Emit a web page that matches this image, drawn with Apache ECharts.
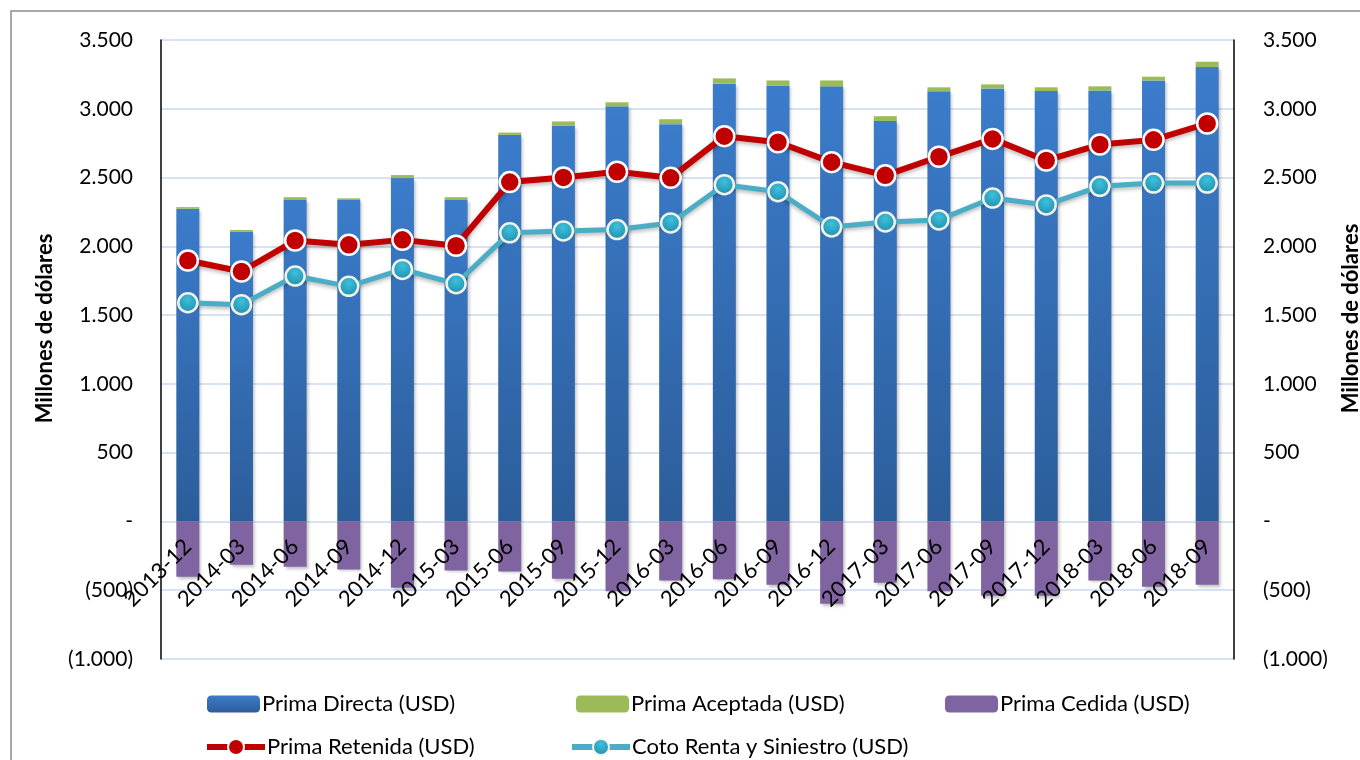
<!DOCTYPE html>
<html>
<head>
<meta charset="utf-8">
<title>Primas</title>
<script src="https://cdn.jsdelivr.net/npm/echarts@6/dist/echarts.min.js"></script>
<style>
    html, body { margin: 0; padding: 0; background: #fff; }
    #chart { width: 1360px; height: 760px; }
</style>
</head>
<body>
<div id="chart"></div>
<script>
// categorias (trimestres)
var periodos = ["2013-12", "2014-03", "2014-06", "2014-09", "2014-12", "2015-03", "2015-06", "2015-09", "2015-12", "2016-03",
    "2016-06", "2016-09", "2016-12", "2017-03", "2017-06", "2017-09", "2017-12", "2018-03", "2018-06", "2018-09"];
// barras apiladas
var primaDirecta = [2273, 2107, 2337, 2337, 2496, 2337, 2810, 2878, 3018, 2888,
    3182, 3170, 3163, 2911, 3127, 3148, 3129, 3132, 3206, 3303];
var primaAceptada = [12, 12, 20, 12, 22, 20, 17, 30, 29, 36,
    39, 36, 43, 35, 29, 29, 27, 31, 27, 39];
var primaCedida = [-402, -315, -330, -349, -482, -356, -363, -417, -508, -429,
    -421, -460, -598, -446, -508, -540, -540, -429, -475, -460];
// lineas
var primaRetenida = [1897, 1817, 2042, 2011, 2047, 2004, 2467, 2501, 2542, 2498,
    2801, 2757, 2612, 2516, 2651, 2781, 2624, 2740, 2774, 2893];
var cotoRenta = [1590, 1576, 1784, 1709, 1832, 1728, 2098, 2112, 2122, 2170,
    2448, 2397, 2141, 2177, 2192, 2351, 2301, 2436, 2460, 2460];
// eje y
var ejeMin = -1000, ejeMax = 3500, ejePaso = 500;

(function () {
    var myChart = echarts.init(document.getElementById("chart"));
    var fuente = "Lato";
    var colorRejilla = "#d5e1f2";

    // formato de etiquetas estilo contable: 3.500 / - / (500)
    function formato(v) {
        if (v === 0) return "-";
        var s = Math.abs(v).toString().replace(/\B(?=(\d{3})+(?!\d))/g, ".");
        return v < 0 ? "(" + s + ")" : s;
    }

    var ejeY = {
        type: "value",
        min: ejeMin,
        max: ejeMax,
        interval: ejePaso,
        name: "Millones de dólares",
        nameLocation: "middle",
        axisLine: { show: true, lineStyle: { color: "#000", width: 1.5 } },
        axisTick: { show: false },
        splitLine: { lineStyle: { color: colorRejilla, width: 1.5 } },
    };

    function leyenda(nombre, x, y, ancho, linea) {
        var l = {
            data: [nombre],
            left: x,
            top: y,
            itemWidth: ancho,
            itemHeight: 17,
            itemGap: 4,
            textStyle: { fontFamily: fuente, fontSize: 22, color: "#000", padding: [0, 0, 0, -3] },
        };
        if (linea) {
            l.lineStyle = { width: 6, shadowBlur: 0 };
            l.itemHeight = 20;
        }
        return l;
    }

    var option = {
        animation: false,
        textStyle: { fontFamily: fuente },
        // marco exterior
        graphic: [
            {
                type: "rect",
                shape: { x: 11, y: 11, width: 1420, height: 820 },
                style: { fill: "none", stroke: "#8c8c8c", lineWidth: 1.5 },
            },
        ],
        grid: { left: 161, right: 126, top: 40, bottom: 101, outerBoundsMode: "none", containLabel: false },
        legend: [
            leyenda("Prima Directa (USD)", 202, 688, 53),
            leyenda("Prima Aceptada (USD)", 571, 688, 53),
            leyenda("Prima Cedida (USD)", 940, 688, 53),
            leyenda("Prima Retenida (USD)", 199, 731, 58, true),
            leyenda("Coto Renta y Siniestro (USD)", 564, 731, 58, true),
        ],
        xAxis: {
            type: "category",
            data: periodos,
            // etiquetas junto a la linea del cero
            axisLine: { show: false, onZero: false },
            axisTick: { show: false },
            axisLabel: { interval: 0, rotate: 45, margin: -116, fontFamily: fuente, fontSize: 22, color: "#000" },
            z: 3,
        },
        yAxis: [
            Object.assign({}, ejeY, {
                position: "left",
                nameGap: 105,
                nameTextStyle: { fontFamily: fuente, fontSize: 22, fontWeight: "bold", color: "#000", padding: [0, 0, 0, 42] },
                axisLabel: { formatter: formato, fontFamily: fuente, fontSize: 21, color: "#000", margin: 28 },
            }),
            Object.assign({}, ejeY, {
                position: "right",
                nameGap: 106,
                nameRotate: 90,
                nameTextStyle: { fontFamily: fuente, fontSize: 22, fontWeight: "bold", color: "#000", padding: [0, 0, 0, 62] },
                axisLabel: { formatter: formato, fontFamily: fuente, fontSize: 21, color: "#000", margin: 29, align: "left" },
            }),
        ],
        series: [
            {
                name: "Prima Directa (USD)",
                type: "bar",
                stack: "prima",
                barWidth: 23,
                data: primaDirecta,
                itemStyle: {
                    color: new echarts.graphic.LinearGradient(0, 0, 0, 1, [
                        { offset: 0, color: "#3b7ccb" },
                        { offset: 1, color: "#2c5d9a" },
                    ]),
                    shadowBlur: 3,
                    shadowOffsetX: 2,
                    shadowOffsetY: 2,
                    shadowColor: "rgba(0,0,0,0.25)",
                },
            },
            {
                name: "Prima Aceptada (USD)",
                type: "bar",
                stack: "prima",
                barWidth: 23,
                data: primaAceptada,
                itemStyle: { color: "#9bbb59" },
            },
            {
                name: "Prima Cedida (USD)",
                type: "bar",
                stack: "prima",
                barWidth: 23,
                data: primaCedida,
                itemStyle: {
                    color: "#8064a2",
                    shadowBlur: 3,
                    shadowOffsetX: 2,
                    shadowOffsetY: 2,
                    shadowColor: "rgba(0,0,0,0.25)",
                },
            },
            {
                name: "Prima Retenida (USD)",
                type: "line",
                data: primaRetenida,
                symbol: "circle",
                symbolSize: 20,
                lineStyle: { color: "#c00000", width: 6, shadowBlur: 4, shadowOffsetY: 2, shadowColor: "rgba(0,0,0,0.3)" },
                itemStyle: { color: "#c00000", borderColor: "#fff", borderWidth: 2.5 },
                z: 5,
            },
            {
                name: "Coto Renta y Siniestro (USD)",
                type: "line",
                data: cotoRenta,
                symbol: "circle",
                symbolSize: 19,
                lineStyle: { color: "#4bacc6", width: 5, shadowBlur: 4, shadowOffsetY: 2, shadowColor: "rgba(0,0,0,0.3)" },
                itemStyle: {
                    color: new echarts.graphic.RadialGradient(0.5, 0.35, 0.6, [
                        { offset: 0, color: "#3ec0dc" },
                        { offset: 1, color: "#1f91b0" },
                    ]),
                    borderColor: "#f2f2e6",
                    borderWidth: 2.5,
                },
                z: 5,
            },
        ],
    };
    myChart.setOption(option);
    window.addEventListener("resize", function () {
        myChart.resize();
    });
})();
</script>
</body>
</html>
